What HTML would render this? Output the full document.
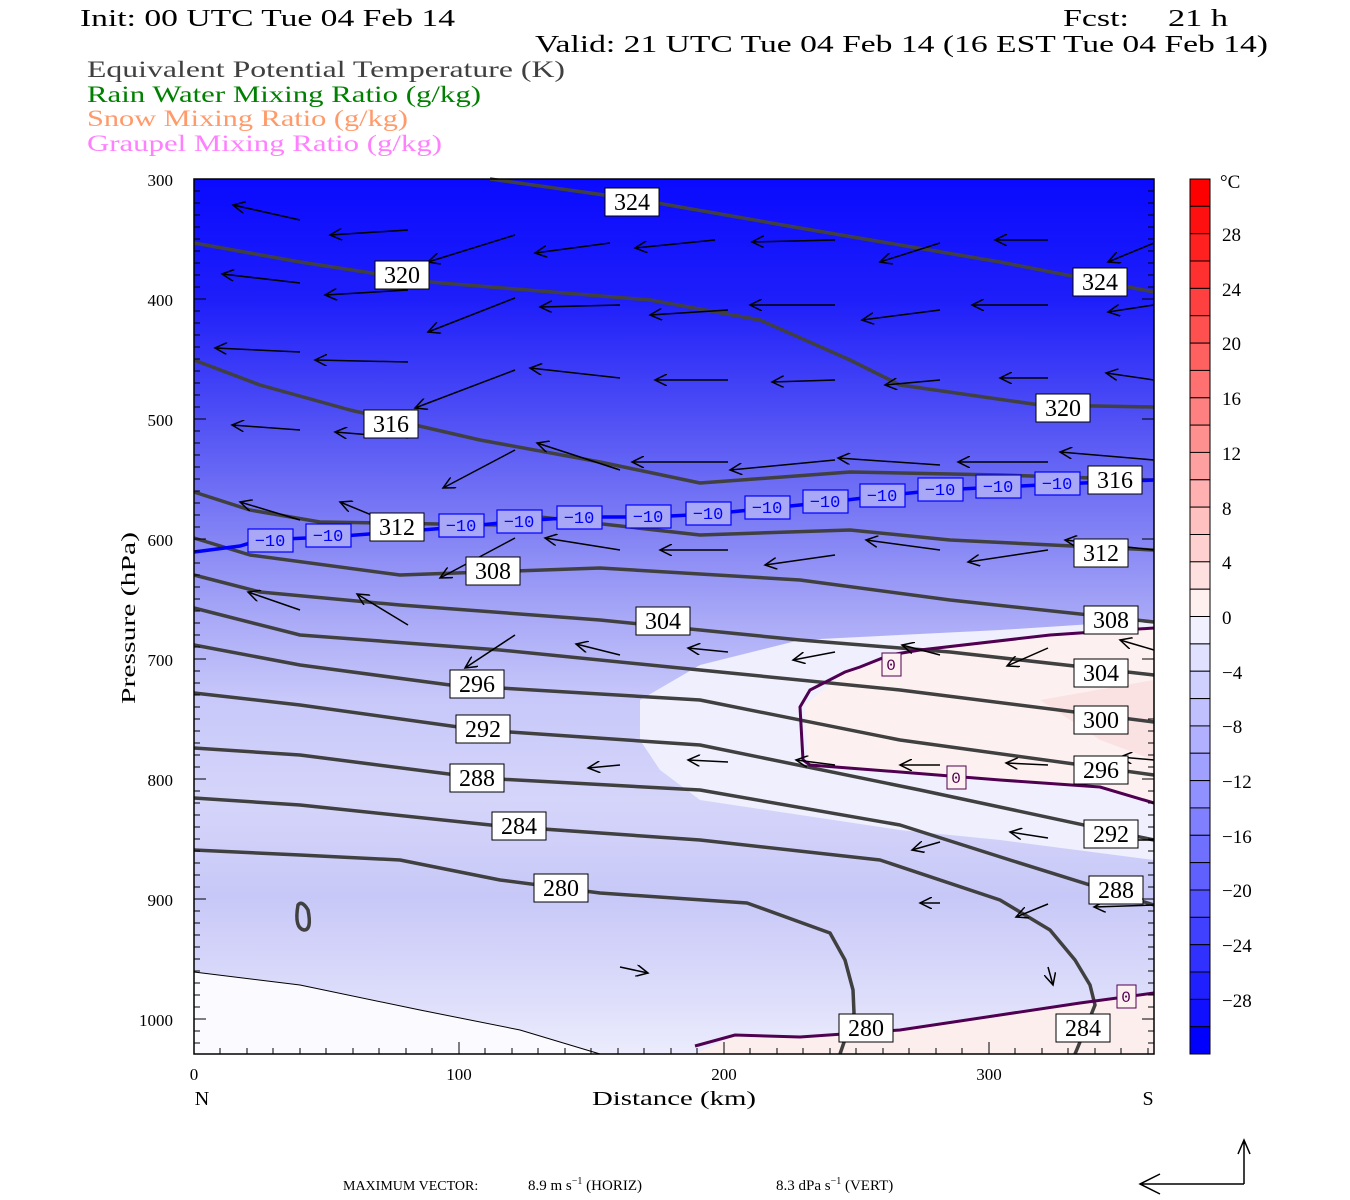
<!DOCTYPE html>
<html><head><meta charset="utf-8"><style>html,body{margin:0;padding:0;background:#fff}svg{display:block}</style></head>
<body>
<svg width="1350" height="1200" viewBox="0 0 1350 1200" xmlns="http://www.w3.org/2000/svg" font-family="Liberation Serif, serif">
<defs>
<linearGradient id="bg" x1="0" y1="179" x2="0" y2="1054" gradientUnits="userSpaceOnUse">
<stop offset="0" stop-color="#0a0aff"/>
<stop offset="0.138" stop-color="#1e1efa"/>
<stop offset="0.275" stop-color="#5050f5"/>
<stop offset="0.41" stop-color="#8484f5"/>
<stop offset="0.5" stop-color="#a8a8f7"/>
<stop offset="0.595" stop-color="#c8c8fa"/>
<stop offset="0.71" stop-color="#d5d5fa"/>
<stop offset="0.82" stop-color="#c8c8f8"/>
<stop offset="0.94" stop-color="#dedefb"/>
<stop offset="1" stop-color="#ececfd"/>
</linearGradient>
<marker id="ah" markerWidth="14" markerHeight="12" refX="12" refY="6" orient="auto" markerUnits="userSpaceOnUse">
<path d="M0,0 L12,6 L0,12" fill="none" stroke="#000" stroke-width="1.5"/>
</marker>
</defs>

<!-- titles -->
<text x="80" y="26" font-size="24" textLength="375" lengthAdjust="spacingAndGlyphs">Init: 00 UTC Tue 04 Feb 14</text>
<text x="1063" y="26" font-size="24" textLength="66" lengthAdjust="spacingAndGlyphs">Fcst:</text>
<text x="1168" y="26" font-size="24" textLength="60" lengthAdjust="spacingAndGlyphs">21 h</text>
<text x="535" y="52" font-size="24" textLength="733" lengthAdjust="spacingAndGlyphs">Valid: 21 UTC Tue 04 Feb 14 (16 EST Tue 04 Feb 14)</text>
<text x="87" y="77" font-size="23" fill="#404040" textLength="478" lengthAdjust="spacingAndGlyphs">Equivalent Potential Temperature (K)</text>
<text x="87" y="102" font-size="23" fill="#008000" textLength="394" lengthAdjust="spacingAndGlyphs">Rain Water Mixing Ratio (g/kg)</text>
<text x="87" y="126" font-size="23" fill="#ff9a6a" textLength="321" lengthAdjust="spacingAndGlyphs">Snow Mixing Ratio (g/kg)</text>
<text x="87" y="151" font-size="23" fill="#ff80ff" textLength="355" lengthAdjust="spacingAndGlyphs">Graupel Mixing Ratio (g/kg)</text>

<!-- plot background -->
<rect x="194" y="179" width="960" height="875" fill="url(#bg)"/>
<path d="M640,700 L700,665 L800,640 L1000,630 L1154,620 L1154,860 L1000,840 L900,830 L700,800 L660,770 L640,740 Z" fill="#efeffd"/>
<path d="M805,705 L845,672 L920,650 L1050,635 L1154,628 L1154,803 L1100,785 L1000,780 L900,772 L808,765 Z" fill="#fdf0f0"/>
<path d="M1040,700 L1154,680 L1154,760 L1100,740 Z" fill="#fbe2e2"/>
<path d="M695,1054 L735,1035 L800,1037 L900,1030 L1000,1015 L1080,1003 L1154,993 L1154,1054 Z" fill="#fdeeee"/>
<path d="M194,972 L300,985 L420,1010 L520,1030 L600,1054 L194,1054 Z" fill="#fbfbff"/>
<path d="M194,972 L300,985 L420,1010 L520,1030 L600,1054" fill="none" stroke="#000" stroke-width="1"/>

<!-- isentropes -->
<g fill="none" stroke="#404040" stroke-width="3.5" stroke-linejoin="round">
<polyline points="490,179 640,200 800,228 1000,262 1154,292"/>
<polyline points="194,243 300,262 430,282 650,300 760,320 850,360 900,385 1040,405 1154,407"/>
<polyline points="194,360 260,385 350,410 480,440 600,462 700,483 850,472 1000,475 1154,480"/>
<polyline points="194,492 250,510 320,522 500,525 540,517 700,535 850,530 950,540 1154,550"/>
<polyline points="194,538 250,555 400,575 600,568 800,580 950,600 1154,622"/>
<polyline points="194,575 260,592 400,605 600,620 800,640 950,652 1154,675"/>
<polyline points="194,608 300,635 500,650 700,670 900,690 1154,722"/>
<polyline points="194,645 300,665 450,685 700,700 900,740 1154,775"/>
<polyline points="194,693 300,705 480,730 700,745 920,790 1154,840"/>
<polyline points="194,748 300,755 480,778 700,790 900,825 1010,860 1154,905"/>
<polyline points="194,798 300,805 500,826 700,840 880,860 1000,900 1050,930 1075,960 1090,985 1095,1005 1085,1030 1075,1054"/>
<polyline points="194,850 300,855 400,860 500,880 600,893 747,903 830,933 845,960 853,990 854,1013 840,1054"/>
<path d="M298,905 Q294,928 304,930 Q312,930 308,910 Q302,900 298,905 Z"/>
</g>

<!-- -10 isotherm -->
<polyline points="194,552 240,546 260,540 330,537 460,527 520,521 580,517 650,517 710,514 770,508 830,502 880,496 940,490 1000,487 1060,484 1154,480" fill="none" stroke="#0000ff" stroke-width="3.5"/>
<g font-size="17" fill="#0000ff" text-anchor="middle" font-family="Liberation Mono, monospace">
<g fill="#a8a8f6" stroke="#0000ff" stroke-width="1.2">
<rect x="248" y="529" width="45" height="23"/><rect x="306" y="524" width="45" height="23"/>
<rect x="439" y="514" width="45" height="23"/><rect x="497" y="510" width="45" height="23"/>
<rect x="557" y="506" width="45" height="23"/><rect x="626" y="505" width="45" height="23"/>
<rect x="686" y="502" width="45" height="23"/><rect x="745" y="496" width="45" height="23"/>
<rect x="803" y="490" width="45" height="23"/><rect x="860" y="484" width="45" height="23"/>
<rect x="918" y="478" width="45" height="23"/><rect x="976" y="475" width="45" height="23"/>
<rect x="1035" y="472" width="45" height="23"/>
</g>
<text x="270" y="546">−10</text><text x="328" y="541">−10</text><text x="461" y="531">−10</text>
<text x="519" y="527">−10</text><text x="579" y="523">−10</text><text x="648" y="522">−10</text>
<text x="708" y="519">−10</text><text x="767" y="513">−10</text><text x="825" y="507">−10</text>
<text x="882" y="501">−10</text><text x="940" y="495">−10</text><text x="998" y="492">−10</text>
<text x="1057" y="489">−10</text>
</g>

<!-- 0 isotherm -->
<g fill="none" stroke="#500050" stroke-width="3">
<polyline points="1154,628 1050,635 920,650 890,655 860,667 845,672 810,690 800,707 803,760 810,765 900,772 1000,780 1100,787 1154,803"/>
<polyline points="695,1046 735,1035 800,1037 900,1030 1000,1015 1080,1003 1154,993"/>
</g>
<g font-size="16" fill="#500050" text-anchor="middle" font-family="Liberation Mono, monospace">
<rect x="882" y="653" width="19" height="23" fill="#fdf0f0" stroke="#500050"/><text x="891" y="670">0</text>
<rect x="947" y="766" width="19" height="23" fill="#fdf0f0" stroke="#500050"/><text x="956" y="783">0</text>
<rect x="1117" y="985" width="19" height="23" fill="#fdf0f0" stroke="#500050"/><text x="1126" y="1002">0</text>
</g>

<!-- arrows -->
<g stroke="#000" stroke-width="1.5" marker-end="url(#ah)">
<line x1="300" y1="220" x2="233" y2="205"/><line x1="408" y1="230" x2="330" y2="235"/><line x1="515" y1="235" x2="428" y2="262"/><line x1="610" y1="243" x2="535" y2="253"/><line x1="715" y1="240" x2="635" y2="248"/><line x1="835" y1="240" x2="752" y2="242"/><line x1="940" y1="243" x2="880" y2="262"/><line x1="1048" y1="240" x2="995" y2="240"/><line x1="1154" y1="243" x2="1108" y2="262"/>
<line x1="300" y1="283" x2="222" y2="274"/><line x1="408" y1="290" x2="325" y2="295"/><line x1="515" y1="298" x2="428" y2="332"/><line x1="620" y1="305" x2="540" y2="307"/><line x1="728" y1="310" x2="650" y2="315"/><line x1="835" y1="305" x2="750" y2="305"/><line x1="940" y1="310" x2="862" y2="320"/><line x1="1048" y1="305" x2="972" y2="305"/><line x1="1154" y1="305" x2="1108" y2="312"/>
<line x1="300" y1="352" x2="215" y2="348"/><line x1="408" y1="362" x2="315" y2="360"/><line x1="515" y1="370" x2="415" y2="408"/><line x1="620" y1="378" x2="530" y2="368"/><line x1="728" y1="380" x2="655" y2="380"/><line x1="835" y1="380" x2="772" y2="382"/><line x1="940" y1="380" x2="885" y2="385"/><line x1="1048" y1="378" x2="1000" y2="378"/><line x1="1154" y1="380" x2="1106" y2="373"/>
<line x1="300" y1="430" x2="232" y2="425"/><line x1="408" y1="438" x2="335" y2="432"/><line x1="515" y1="450" x2="443" y2="488"/><line x1="620" y1="470" x2="537" y2="443"/><line x1="728" y1="462" x2="632" y2="462"/><line x1="835" y1="460" x2="730" y2="470"/><line x1="940" y1="465" x2="838" y2="458"/><line x1="1048" y1="462" x2="958" y2="462"/><line x1="1154" y1="460" x2="1060" y2="452"/>
<line x1="300" y1="520" x2="240" y2="502"/><line x1="408" y1="530" x2="340" y2="502"/><line x1="515" y1="538" x2="440" y2="578"/><line x1="620" y1="550" x2="545" y2="538"/><line x1="728" y1="550" x2="660" y2="550"/><line x1="835" y1="555" x2="765" y2="565"/><line x1="940" y1="550" x2="866" y2="540"/><line x1="1048" y1="550" x2="968" y2="562"/><line x1="1154" y1="550" x2="1065" y2="540"/>
<line x1="300" y1="610" x2="248" y2="592"/><line x1="408" y1="625" x2="357" y2="594"/><line x1="515" y1="635" x2="465" y2="668"/><line x1="620" y1="655" x2="576" y2="644"/><line x1="728" y1="652" x2="688" y2="648"/><line x1="835" y1="652" x2="793" y2="660"/><line x1="940" y1="655" x2="902" y2="645"/><line x1="1048" y1="648" x2="1007" y2="666"/><line x1="1154" y1="650" x2="1120" y2="640"/>
<line x1="620" y1="765" x2="588" y2="768"/><line x1="728" y1="762" x2="688" y2="760"/><line x1="835" y1="765" x2="796" y2="760"/><line x1="940" y1="765" x2="900" y2="765"/><line x1="1048" y1="765" x2="1006" y2="763"/><line x1="1154" y1="760" x2="1120" y2="757"/>
<line x1="1048" y1="838" x2="1010" y2="832"/><line x1="940" y1="842" x2="912" y2="850"/><line x1="1154" y1="840" x2="1100" y2="840"/>
<line x1="940" y1="903" x2="920" y2="903"/><line x1="1048" y1="904" x2="1016" y2="917"/><line x1="1154" y1="905" x2="1094" y2="907"/>
<line x1="620" y1="967" x2="648" y2="973"/><line x1="1048" y1="967" x2="1053" y2="985"/>
</g>

<!-- contour labels -->
<g font-size="24" text-anchor="middle">
<g fill="#fff" stroke="#000" stroke-width="1">
<rect x="605" y="188" width="54" height="28"/><rect x="1073" y="268" width="54" height="28"/>
<rect x="375" y="261" width="54" height="28"/><rect x="1036" y="394" width="54" height="28"/>
<rect x="364" y="410" width="54" height="28"/><rect x="1088" y="466" width="54" height="28"/>
<rect x="370" y="513" width="54" height="28"/><rect x="1074" y="539" width="54" height="28"/>
<rect x="466" y="557" width="54" height="28"/><rect x="1084" y="606" width="54" height="28"/>
<rect x="636" y="607" width="54" height="28"/><rect x="1074" y="659" width="54" height="28"/>
<rect x="1074" y="706" width="54" height="28"/>
<rect x="450" y="670" width="54" height="28"/><rect x="1074" y="756" width="54" height="28"/>
<rect x="456" y="715" width="54" height="28"/><rect x="1084" y="820" width="54" height="28"/>
<rect x="450" y="764" width="54" height="28"/><rect x="1089" y="876" width="54" height="28"/>
<rect x="492" y="812" width="54" height="28"/><rect x="1056" y="1014" width="54" height="28"/>
<rect x="534" y="874" width="54" height="28"/><rect x="839" y="1014" width="54" height="28"/>
</g>
<text x="632" y="210">324</text><text x="1100" y="290">324</text>
<text x="402" y="283">320</text><text x="1063" y="416">320</text>
<text x="391" y="432">316</text><text x="1115" y="488">316</text>
<text x="397" y="535">312</text><text x="1101" y="561">312</text>
<text x="493" y="579">308</text><text x="1111" y="628">308</text>
<text x="663" y="629">304</text><text x="1101" y="681">304</text>
<text x="1101" y="728">300</text>
<text x="477" y="692">296</text><text x="1101" y="778">296</text>
<text x="483" y="737">292</text><text x="1111" y="842">292</text>
<text x="477" y="786">288</text><text x="1116" y="898">288</text>
<text x="519" y="834">284</text><text x="1083" y="1036">284</text>
<text x="561" y="896">280</text><text x="866" y="1036">280</text>
</g>

<!-- frame & ticks -->
<rect x="194" y="179" width="960" height="875" fill="none" stroke="#000" stroke-width="1.5"/>
<g stroke="#000" stroke-width="1">
<path d="M194,191h6M194,203h6M194,215h6M194,227h6M194,239h6M194,251h6M194,263h6M194,275h6M194,287h6M194,299h12M194,311h6M194,323h6M194,335h6M194,347h6M194,359h6M194,371h6M194,383h6M194,395h6M194,407h6M194,419h12M194,431h6M194,443h6M194,455h6M194,467h6M194,479h6M194,491h6M194,503h6M194,515h6M194,527h6M194,539h12M194,551h6M194,563h6M194,575h6M194,587h6M194,599h6M194,611h6M194,623h6M194,635h6M194,647h6M194,659h12M194,671h6M194,683h6M194,695h6M194,707h6M194,719h6M194,731h6M194,743h6M194,755h6M194,767h6M194,779h12M194,791h6M194,803h6M194,815h6M194,827h6M194,839h6M194,851h6M194,863h6M194,875h6M194,887h6M194,899h12M194,911h6M194,923h6M194,935h6M194,947h6M194,959h6M194,971h6M194,983h6M194,995h6M194,1007h6M194,1019h12M194,1031h6M194,1043h6"/>
<path d="M1154,191h-6M1154,203h-6M1154,215h-6M1154,227h-6M1154,239h-6M1154,251h-6M1154,263h-6M1154,275h-6M1154,287h-6M1154,299h-12M1154,419h-12M1154,539h-12M1154,659h-12M1154,779h-12M1154,899h-12M1154,1019h-12M1154,983h-6M1154,995h-6M1154,1007h-6M1154,1031h-6M1154,1043h-6M1154,971h-6M1154,959h-6M1154,947h-6M1154,935h-6M1154,923h-6M1154,911h-6M1154,887h-6M1154,875h-6M1154,863h-6M1154,851h-6M1154,839h-6M1154,827h-6M1154,815h-6M1154,803h-6M1154,791h-6M1154,767h-6M1154,755h-6M1154,743h-6M1154,731h-6M1154,719h-6"/>
<path d="M220,1054v-6M247,1054v-6M273,1054v-6M300,1054v-6M326,1054v-6M353,1054v-6M379,1054v-6M406,1054v-6M432,1054v-6M459,1054v-12M485,1054v-6M512,1054v-6M538,1054v-6M565,1054v-6M591,1054v-6M618,1054v-6M644,1054v-6M671,1054v-6M697,1054v-6M724,1054v-12M750,1054v-6M777,1054v-6M803,1054v-6M830,1054v-6M856,1054v-6M883,1054v-6M909,1054v-6M936,1054v-6M962,1054v-6M989,1054v-12M1015,1054v-6M1042,1054v-6M1068,1054v-6M1095,1054v-6M1121,1054v-6M1148,1054v-6"/>
</g>
<g font-size="17" text-anchor="end">
<text x="173" y="186">300</text><text x="173" y="306">400</text><text x="173" y="426">500</text><text x="173" y="546">600</text><text x="173" y="666">700</text><text x="173" y="786">800</text><text x="173" y="906">900</text><text x="173" y="1026">1000</text>
</g>
<g font-size="17" text-anchor="middle">
<text x="194" y="1080">0</text><text x="459" y="1080">100</text><text x="724" y="1080">200</text><text x="989" y="1080">300</text>
</g>
<text x="202" y="1105" font-size="20" text-anchor="middle">N</text>
<text x="1148" y="1105" font-size="20" text-anchor="middle">S</text>
<text x="674" y="1105" font-size="20" text-anchor="middle" textLength="164" lengthAdjust="spacingAndGlyphs">Distance (km)</text>
<text transform="translate(135,618) rotate(-90)" font-size="20" text-anchor="middle" textLength="172" lengthAdjust="spacingAndGlyphs">Pressure (hPa)</text>

<!-- colorbar -->
<g stroke="#000" stroke-width="1">
<rect x="1190" y="179.0" width="20" height="27.4" fill="rgb(255,0,0)"/>
<rect x="1190" y="206.3" width="20" height="27.4" fill="rgb(255,16,16)"/>
<rect x="1190" y="233.7" width="20" height="27.4" fill="rgb(255,32,32)"/>
<rect x="1190" y="261.0" width="20" height="27.4" fill="rgb(255,48,48)"/>
<rect x="1190" y="288.4" width="20" height="27.4" fill="rgb(255,64,64)"/>
<rect x="1190" y="315.7" width="20" height="27.4" fill="rgb(255,80,80)"/>
<rect x="1190" y="343.1" width="20" height="27.4" fill="rgb(255,96,96)"/>
<rect x="1190" y="370.4" width="20" height="27.4" fill="rgb(255,112,112)"/>
<rect x="1190" y="397.8" width="20" height="27.4" fill="rgb(255,128,128)"/>
<rect x="1190" y="425.1" width="20" height="27.4" fill="rgb(255,144,144)"/>
<rect x="1190" y="452.4" width="20" height="27.4" fill="rgb(255,160,160)"/>
<rect x="1190" y="479.8" width="20" height="27.4" fill="rgb(255,176,176)"/>
<rect x="1190" y="507.1" width="20" height="27.4" fill="rgb(255,192,192)"/>
<rect x="1190" y="534.5" width="20" height="27.4" fill="rgb(255,208,208)"/>
<rect x="1190" y="561.8" width="20" height="27.4" fill="rgb(255,224,224)"/>
<rect x="1190" y="589.2" width="20" height="27.4" fill="rgb(255,240,240)"/>
<rect x="1190" y="616.5" width="20" height="27.4" fill="rgb(240,240,255)"/>
<rect x="1190" y="643.9" width="20" height="27.4" fill="rgb(224,224,255)"/>
<rect x="1190" y="671.2" width="20" height="27.4" fill="rgb(208,208,255)"/>
<rect x="1190" y="698.6" width="20" height="27.4" fill="rgb(192,192,255)"/>
<rect x="1190" y="725.9" width="20" height="27.4" fill="rgb(176,176,255)"/>
<rect x="1190" y="753.2" width="20" height="27.4" fill="rgb(160,160,255)"/>
<rect x="1190" y="780.6" width="20" height="27.4" fill="rgb(144,144,255)"/>
<rect x="1190" y="807.9" width="20" height="27.4" fill="rgb(128,128,255)"/>
<rect x="1190" y="835.3" width="20" height="27.4" fill="rgb(112,112,255)"/>
<rect x="1190" y="862.6" width="20" height="27.4" fill="rgb(96,96,255)"/>
<rect x="1190" y="890.0" width="20" height="27.4" fill="rgb(80,80,255)"/>
<rect x="1190" y="917.3" width="20" height="27.4" fill="rgb(64,64,255)"/>
<rect x="1190" y="944.7" width="20" height="27.4" fill="rgb(48,48,255)"/>
<rect x="1190" y="972.0" width="20" height="27.4" fill="rgb(32,32,255)"/>
<rect x="1190" y="999.4" width="20" height="27.4" fill="rgb(16,16,255)"/>
<rect x="1190" y="1026.7" width="20" height="27.3" fill="rgb(0,0,255)"/>
</g>
<g font-size="19">
<text x="1220" y="188">°C</text>
<text x="1222" y="241">28</text><text x="1222" y="296">24</text><text x="1222" y="350">20</text><text x="1222" y="405">16</text><text x="1222" y="460">12</text><text x="1222" y="515">8</text><text x="1222" y="569">4</text><text x="1222" y="624">0</text>
<text x="1222" y="679">−4</text><text x="1222" y="733">−8</text><text x="1222" y="788">−12</text><text x="1222" y="843">−16</text><text x="1222" y="897">−20</text><text x="1222" y="952">−24</text><text x="1222" y="1007">−28</text>
</g>

<!-- max vector -->
<text x="343" y="1190" font-size="14">MAXIMUM VECTOR:</text>
<text x="528" y="1190" font-size="15">8.9 m s<tspan font-size="10" dy="-6">−1</tspan><tspan dy="6"> (HORIZ)</tspan></text>
<text x="776" y="1190" font-size="15">8.3 dPa s<tspan font-size="10" dy="-6">−1</tspan><tspan dy="6"> (VERT)</tspan></text>
<g stroke="#000" stroke-width="1.5" fill="none">
<path d="M1244,1184 H1140 M1160,1174 L1140,1184 L1160,1194"/>
<path d="M1244,1184 V1140 M1238,1154 L1244,1140 L1250,1154"/>
</g>
</svg>
</body></html>
